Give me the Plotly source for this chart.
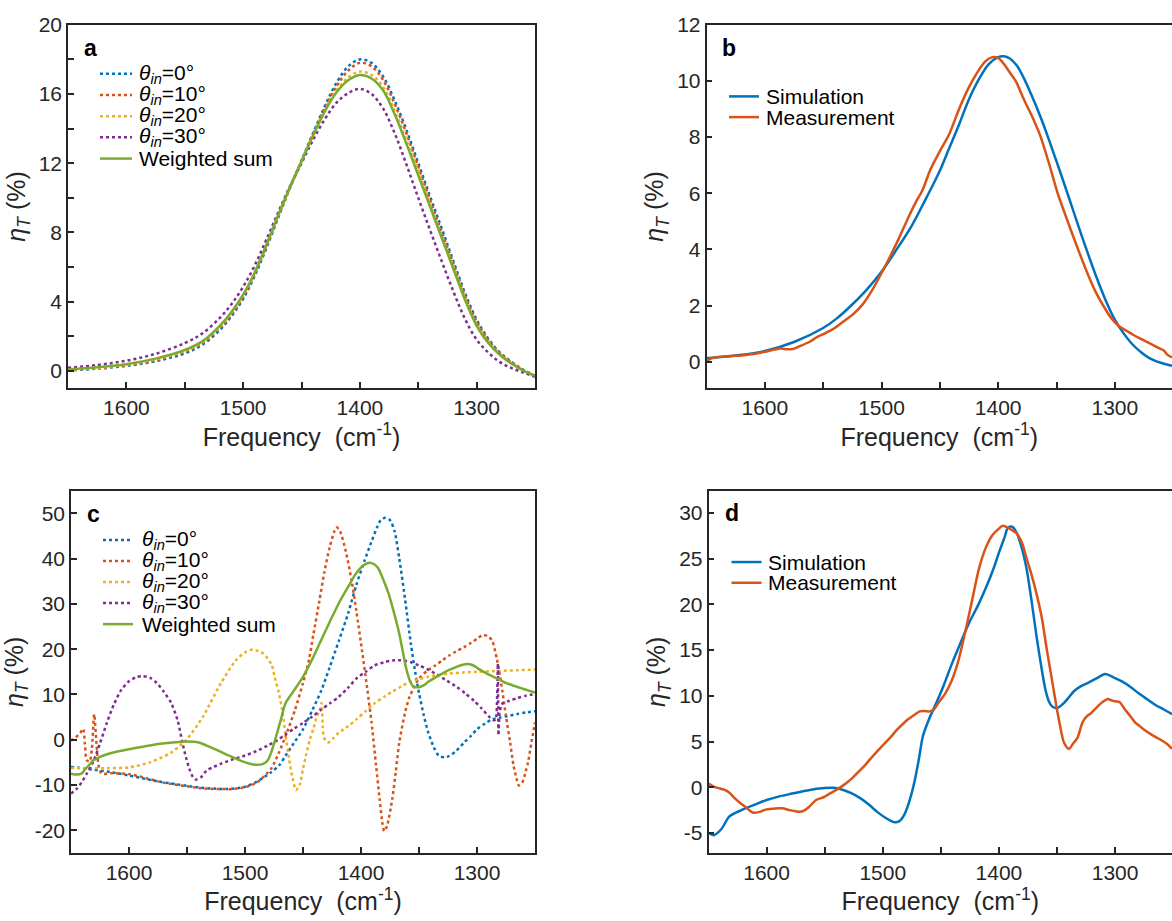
import plotly.graph_objects as go

W, H = 1172, 921

# ---------------- Panel a data ----------------
FA = [1650, 1625, 1600, 1575, 1550, 1535, 1520, 1510, 1500, 1490, 1480, 1470, 1460, 1450, 1440, 1430, 1420,
      1410, 1400, 1390, 1380, 1370, 1360, 1350, 1340, 1330, 1320, 1310, 1300, 1290, 1280, 1270, 1260, 1250]
A_T0 = [0.02, 0.12, 0.28, 0.55, 1.0, 1.5, 2.35, 3.15, 4.15, 5.5, 7.1, 8.85, 10.55, 12.15, 13.75, 15.3, 16.65,
        17.6, 18.0, 17.8, 17.0, 15.6, 13.9, 12.0, 10.1, 8.25, 6.35, 4.5, 2.95, 1.85, 1.05, 0.5, 0.05, -0.3]
A_T10 = [0.04, 0.15, 0.32, 0.6, 1.08, 1.58, 2.45, 3.25, 4.25, 5.6, 7.2, 8.9, 10.57, 12.13, 13.7, 15.2, 16.45,
         17.35, 17.8, 17.6, 16.8, 15.4, 13.7, 11.8, 9.9, 8.05, 6.2, 4.35, 2.85, 1.78, 1.0, 0.47, 0.04, -0.3]
A_T20 = [0.06, 0.17, 0.35, 0.66, 1.15, 1.65, 2.55, 3.35, 4.35, 5.65, 7.25, 8.95, 10.58, 12.1, 13.65, 15.05, 16.2,
         16.95, 17.3, 17.1, 16.4, 15.0, 13.3, 11.5, 9.65, 7.85, 6.05, 4.2, 2.7, 1.68, 0.95, 0.43, 0.02, -0.3]
A_T30 = [0.17, 0.33, 0.58, 0.98, 1.6, 2.15, 3.05, 3.85, 4.85, 6.1, 7.6, 9.15, 10.65, 12.0, 13.35, 14.55, 15.5,
         16.05, 16.3, 16.0, 15.15, 13.7, 11.9, 10.0, 8.15, 6.35, 4.6, 3.0, 1.8, 1.05, 0.5, 0.15, -0.1, -0.35]
A_SUM = [0.08, 0.2, 0.38, 0.7, 1.2, 1.7, 2.6, 3.4, 4.4, 5.7, 7.3, 9.0, 10.6, 12.1, 13.6, 15.0, 16.1,
         16.8, 17.1, 16.9, 16.2, 14.8, 13.1, 11.3, 9.5, 7.7, 5.9, 4.1, 2.6, 1.6, 0.9, 0.4, 0.0, -0.3]

# ---------------- Panel b data ----------------
B_SIM_F = [1650, 1625, 1600, 1575, 1550, 1538, 1526, 1513, 1500, 1487, 1474, 1462, 1450, 1442, 1433.5, 1425,
           1416, 1408, 1400, 1395, 1390, 1384, 1378, 1372, 1364, 1356, 1348, 1340, 1333, 1325, 1317, 1308,
           1300, 1292, 1285, 1277, 1270, 1260, 1251]
B_SIM = [0.12, 0.22, 0.38, 0.7, 1.2, 1.55, 2.0, 2.55, 3.2, 4.0, 4.85, 5.8, 6.8, 7.6, 8.45, 9.35,
         10.1, 10.6, 10.85, 10.88, 10.8, 10.55, 10.1, 9.55, 8.75, 7.85, 6.9, 5.92, 5.05, 4.08, 3.15, 2.2,
         1.5, 0.98, 0.62, 0.32, 0.12, -0.05, -0.15]
B_MEAS_F = [1650, 1646, 1640, 1630, 1620, 1610, 1600, 1592, 1586, 1581, 1576, 1570, 1562, 1555, 1548,
            1540, 1532, 1524, 1516, 1508, 1500, 1492, 1485, 1478, 1471, 1465, 1458, 1450, 1442, 1434,
            1426, 1418, 1411, 1405, 1400, 1395, 1390, 1385, 1378, 1370, 1363.5, 1356, 1349, 1340, 1331.5,
            1322, 1316, 1310, 1303, 1296, 1290, 1284, 1277, 1270, 1263, 1258, 1255, 1251]
B_MEAS = [0.0, 0.12, 0.17, 0.2, 0.22, 0.27, 0.35, 0.43, 0.47, 0.44, 0.45, 0.55, 0.7, 0.88, 1.02,
          1.2, 1.45, 1.7, 2.05, 2.55, 3.15, 3.8, 4.4, 5.05, 5.65, 6.1, 6.85, 7.5, 8.1, 8.95,
          9.7, 10.3, 10.7, 10.85, 10.82, 10.6, 10.3, 10.0, 9.35, 8.65, 8.0, 7.0, 6.0, 4.95, 4.0,
          3.0, 2.45, 2.0, 1.55, 1.25, 1.1, 0.95, 0.8, 0.65, 0.5, 0.4, 0.25, 0.15]

# ---------------- Panel c data ----------------
C_T0_F = [1650, 1631, 1615, 1600, 1585, 1573, 1560, 1550, 1538, 1527, 1515, 1500, 1490, 1478, 1470,
          1465, 1458, 1450, 1442, 1434, 1427, 1419, 1411, 1404, 1397, 1391, 1386, 1383, 1379, 1375,
          1371, 1367, 1362, 1357, 1353, 1350, 1346, 1342, 1337, 1333, 1328, 1324, 1318, 1311, 1305,
          1300, 1293, 1287, 1280, 1274, 1265, 1258, 1250]
C_T0 = [-6.0, -6.6, -7.2, -7.9, -8.7, -9.3, -9.8, -10.2, -10.6, -10.8, -10.9, -10.4, -9.3, -7.3, -5.5,
        -3.5, -0.8, 2.3, 6.5, 11.0, 16.0, 21.9, 28.0, 34.2, 39.5, 43.7, 47.0, 48.5, 49.0, 48.5,
        46.0, 40.0, 31.0, 21.2, 14.5, 10.3, 5.5, 1.6, -1.8, -3.5, -3.9, -3.6, -2.5, -0.6, 0.9,
        2.3, 3.6, 4.5, 4.9, 5.2, 5.7, 6.0, 6.3]
C_T10_F = [1650, 1646, 1642, 1639.5, 1638, 1636.5, 1634, 1632, 1630, 1628, 1626, 1623.5, 1615, 1600, 1585,
           1570, 1550, 1535, 1520, 1510, 1500, 1490, 1477.5, 1471, 1465, 1457, 1450, 1445, 1441, 1436,
           1431.5, 1427, 1423, 1421, 1418, 1413, 1408, 1404, 1399, 1394.5, 1391, 1387, 1384, 1381.5, 1380,
           1377.5, 1373, 1370, 1367, 1362, 1358, 1350, 1343, 1336, 1330, 1324, 1318, 1311.5, 1305, 1299,
           1295, 1291, 1287, 1283, 1281, 1278, 1275, 1271.5, 1268.5, 1266, 1264, 1261, 1258.5, 1256, 1253,
           1250]
C_T10 = [-0.2, 0.5, 1.5, 2.4, -1.0, -4.5, -4.8, -2.0, 5.6, -1.0, -6.0, -7.5, -7.4, -7.6, -8.5,
         -9.5, -10.3, -10.8, -10.9, -10.9, -10.5, -9.5, -6.4, -3.0, 0.8, 6.5, 12.5, 17.5, 23.3, 30.5,
         37.1, 42.5, 46.0, 46.9, 46.0, 41.5, 35.0, 28.4, 19.5, 11.0, 4.0, -5.7, -13.0, -18.5, -20.2,
         -19.0, -13.0, -7.0, -0.6, 6.0, 9.55, 13.5, 15.2, 16.4, 17.5, 18.6, 19.5, 20.4, 21.4, 22.5,
         23.1, 22.9, 21.9, 18.0, 15.4, 10.5, 5.2, -0.5, -5.7, -8.5, -10.1, -9.5, -7.5, -5.0, -0.5,
         3.8]
C_T20_F = [1650, 1635, 1619, 1600, 1582, 1564, 1550, 1536, 1521, 1508, 1500, 1493, 1484, 1477, 1474.5,
           1471, 1468, 1465, 1462, 1459, 1456, 1453, 1450, 1447, 1444, 1441, 1438, 1435.5, 1434, 1433,
           1432, 1430, 1428, 1424, 1419, 1411, 1404, 1396, 1388, 1380, 1373, 1365, 1358, 1350, 1342,
           1333, 1324, 1312, 1300, 1280, 1265, 1250]
C_T20 = [-6.25, -6.3, -6.3, -6.1, -5.0, -2.9, 0.15, 5.2, 12.4, 17.5, 19.3, 19.9, 19.0, 16.5, 13.9,
         10.5, 6.6, 1.0, -4.25, -8.5, -11.1, -10.0, -6.4, -3.0, 0.1, 2.5, 5.2, 6.5, 8.1, 3.0,
         0.5, -0.3, -0.6, 0.3, 1.6, 3.0, 4.5, 6.3, 8.1, 9.5, 10.6, 11.8, 12.8, 13.4, 13.9,
         14.3, 14.6, 14.85, 15.0, 15.2, 15.35, 15.5]
C_T30_F = [1650, 1645, 1640.5, 1636, 1631, 1625, 1619, 1613, 1606.7, 1600, 1594, 1588, 1582, 1576, 1570,
           1563.6, 1558, 1554, 1551, 1548, 1545, 1542.7, 1538, 1533, 1527, 1520.6, 1510, 1500, 1490, 1480.6,
           1472, 1465, 1458, 1450, 1442, 1434.5, 1427, 1419, 1411, 1404, 1396, 1388.4, 1380, 1373, 1368,
           1363.8, 1357, 1350, 1343, 1336, 1327, 1317.7, 1310, 1302.3, 1296, 1290, 1286, 1284, 1282.6, 1282,
           1281.5, 1280.5, 1279, 1277.6, 1272, 1265.4, 1258, 1250]
C_T30 = [-11.9, -10.8, -9.3, -7.3, -5.0, -0.8, 3.8, 7.8, 11.0, 12.9, 13.8, 14.05, 13.7, 12.5, 10.6,
         8.1, 4.2, -0.6, -3.8, -6.4, -8.2, -8.8, -8.3, -6.8, -6.0, -5.3, -4.3, -3.5, -2.5, -1.3,
         -0.1, 1.2, 2.4, 3.7, 5.1, 6.6, 8.0, 9.5, 11.5, 13.5, 15.0, 16.4, 17.1, 17.5, 17.55,
         17.5, 17.1, 16.4, 15.6, 14.6, 13.2, 11.7, 10.2, 8.5, 6.9, 5.2, 4.3, 4.4, 10.0, 16.8,
         1.0, 6.0, 7.6, 8.1, 8.6, 9.2, 9.7, 10.1]
C_SUM_F = [1650, 1645, 1641, 1637.4, 1634, 1631, 1625, 1619, 1610, 1600, 1587, 1573, 1560, 1550, 1540,
           1533, 1524, 1514, 1505, 1496, 1490, 1485, 1480.6, 1477, 1473, 1469, 1465, 1458, 1450, 1442,
           1434.5, 1427, 1419, 1411, 1404, 1398, 1393, 1389, 1385.3, 1381, 1376, 1371, 1367, 1364, 1360.7,
           1357.5, 1354.6, 1350, 1346, 1342, 1336, 1330, 1324, 1317.7, 1313, 1308.5, 1304, 1299, 1293, 1287,
           1281, 1274.6, 1268, 1262, 1256, 1250]
C_SUM = [-7.5, -7.7, -7.5, -6.4, -5.5, -4.6, -3.8, -3.2, -2.6, -2.1, -1.5, -0.9, -0.55, -0.4, -0.6,
         -1.3, -2.3, -3.5, -4.5, -5.3, -5.55, -5.4, -4.6, -2.5, 0.9, 4.5, 8.1, 10.8, 13.9, 17.8,
         21.9, 26.0, 30.2, 33.8, 36.8, 38.5, 39.1, 38.8, 37.9, 35.5, 32.1, 27.5, 23.4, 19.5, 15.4,
         12.8, 11.7, 11.6, 12.0, 12.8, 13.7, 14.6, 15.4, 16.1, 16.5, 16.7, 16.5, 15.7, 14.8, 14.05,
         13.3, 12.5, 11.9, 11.4, 10.9, 10.4]

# ---------------- Panel d data ----------------
D_SIM_F = [1650, 1645.6, 1639, 1632, 1621.7, 1610, 1600, 1589, 1578, 1565, 1550, 1542, 1534, 1527, 1519.4,
           1512, 1504.8, 1497, 1490.8, 1486, 1481.4, 1477, 1472.7, 1469, 1465.4, 1460, 1455, 1448, 1440.5, 1433,
           1426, 1418, 1411.3, 1405, 1399.6, 1395, 1392.3, 1388.5, 1385, 1381, 1376.3, 1372, 1367.5, 1363, 1360,
           1357, 1354.4, 1350, 1345, 1340, 1335.4, 1330, 1323.7, 1316, 1308.5, 1301, 1294.5, 1287, 1280, 1272,
           1265.2, 1258, 1251]
D_SIM = [-5.0, -5.25, -4.6, -3.2, -2.5, -1.9, -1.4, -1.0, -0.7, -0.35, -0.1, -0.07, -0.3, -0.65, -1.2,
         -1.9, -2.7, -3.4, -3.8, -3.75, -3.0, -1.5, 0.6, 3.0, 5.6, 7.5, 8.9, 11.0, 13.5, 15.8,
         17.9, 19.9, 21.8, 23.8, 25.8, 27.4, 28.4, 28.5, 27.9, 26.5, 24.0, 20.5, 16.4, 12.8, 10.7,
         9.4, 8.85, 8.65, 9.1, 9.8, 10.5, 11.0, 11.4, 11.9, 12.4, 12.0, 11.6, 11.0, 10.3, 9.6,
         9.0, 8.5, 8.0]
D_MEAS_F = [1650, 1645, 1640, 1636, 1632, 1627.5, 1623, 1618.7, 1615, 1611.4, 1606, 1601, 1594, 1586.6, 1580.8,
            1576, 1572, 1567, 1563, 1557.4, 1551, 1545.7, 1540, 1534, 1528, 1522.3, 1516, 1510.6, 1505, 1499,
            1493, 1487.3, 1482, 1478.5, 1473, 1468.3, 1464, 1459.5, 1456, 1452.2, 1446, 1440.5, 1435, 1428.8, 1423,
            1417, 1411, 1405.5, 1400, 1396.7, 1391, 1385, 1380, 1376.3, 1372, 1367.5, 1363, 1358.7, 1354, 1350,
            1347, 1344, 1339.7, 1336, 1332.4, 1328, 1324, 1320.7, 1316, 1312, 1306, 1303, 1300, 1296, 1291.5,
            1287, 1282.8, 1278, 1274, 1268, 1262.3, 1256, 1251]
D_MEAS = [0.4, 0.04, -0.15, -0.3, -0.6, -1.2, -1.7, -2.1, -2.5, -2.8, -2.7, -2.45, -2.35, -2.3, -2.5,
          -2.6, -2.7, -2.5, -2.1, -1.4, -1.1, -0.7, -0.3, 0.2, 0.8, 1.5, 2.3, 3.1, 3.9, 4.7,
          5.5, 6.35, 7.0, 7.4, 7.9, 8.3, 8.35, 8.3, 8.5, 9.2, 10.3, 11.7, 13.8, 17.1, 20.5,
          24.0, 26.3, 27.6, 28.3, 28.6, 28.3, 27.8, 26.7, 25.1, 23.3, 21.1, 18.5, 15.0, 11.5, 8.5,
          6.5, 4.9, 4.2, 4.8, 5.4, 7.1, 7.8, 8.1, 8.7, 9.2, 9.65, 9.5, 9.4, 9.3, 8.5,
          7.8, 7.1, 6.6, 6.2, 5.7, 5.3, 4.8, 4.2]

# ---------------- labels / ticks ----------------
ANGLES = [0, 10, 20, 30]
SIM_LABELS = ["Simulation", "Measurement"]
PANEL_LABELS = ["a", "b", "c", "d"]
X_TICKS = [1600, 1500, 1400, 1300]
X_MINOR = [1550, 1450, 1350]
YA_TICKS = [0, 4, 8, 12, 16, 20]
YA_MINOR = [2, 6, 10, 14, 18]
YB_TICKS = [0, 2, 4, 6, 8, 10, 12]
YC_TICKS = [-20, -10, 0, 10, 20, 30, 40, 50]
YD_TICKS = [-5, 0, 5, 10, 15, 20, 25, 30]

for fx, fy in [(FA, A_T0), (FA, A_T10), (FA, A_T20), (FA, A_T30), (FA, A_SUM), (B_SIM_F, B_SIM),
               (B_MEAS_F, B_MEAS), (C_T0_F, C_T0), (C_T10_F, C_T10), (C_T20_F, C_T20), (C_T30_F, C_T30),
               (C_SUM_F, C_SUM), (D_SIM_F, D_SIM), (D_MEAS_F, D_MEAS)]:
    assert len(fx) == len(fy), (len(fx), len(fy))

BLUE, ORANGE, YELLOW, PURPLE, GREEN = "#0072BD", "#D95319", "#EDB120", "#7E2F8E", "#77AC30"
ANG_COLORS = [BLUE, ORANGE, YELLOW, PURPLE]
INK = "#262626"
FONT = "Liberation Sans, Arial, Helvetica, sans-serif"


def px(x):
    return x / W


def py(y):
    return 1 - y / H


def ang_label(a):
    return f"<i>θ</i><sub><i>in</i></sub>={a}°"


fig = go.Figure()

LW = 2.5


def add(xs, ys, color, dash, ax, name, smooth=1.0):
    fig.add_trace(go.Scatter(x=xs, y=ys, mode="lines", name=name, showlegend=False,
                             line=dict(color=color, width=LW, dash=dash, shape="spline", smoothing=smooth),
                             xaxis=ax[0], yaxis=ax[1], hoverinfo="skip"))


for a, ys, c in zip(ANGLES, [A_T0, A_T10, A_T20, A_T30], ANG_COLORS):
    add(FA, ys, c, "dot", ("x", "y"), ang_label(a))
add(FA, A_SUM, GREEN, "solid", ("x", "y"), "Weighted sum")

add(B_SIM_F, B_SIM, BLUE, "solid", ("x2", "y2"), SIM_LABELS[0])
add(B_MEAS_F, B_MEAS, ORANGE, "solid", ("x2", "y2"), SIM_LABELS[1], 0.8)

for a, fx, ys, c in zip(ANGLES, [C_T0_F, C_T10_F, C_T20_F, C_T30_F], [C_T0, C_T10, C_T20, C_T30], ANG_COLORS):
    add(fx, ys, c, "dot", ("x3", "y3"), ang_label(a), 0.7)
add(C_SUM_F, C_SUM, GREEN, "solid", ("x3", "y3"), "Weighted sum", 0.8)

add(D_SIM_F, D_SIM, BLUE, "solid", ("x4", "y4"), SIM_LABELS[0], 0.8)
add(D_MEAS_F, D_MEAS, ORANGE, "solid", ("x4", "y4"), SIM_LABELS[1], 0.8)

XTITLE = "Frequency  (cm<sup>-1</sup>)"
YTITLE = "<i>η</i><sub><i>T</i></sub> (%)"
TICK_SIZE = 21


def xaxis(dom, rng, anchor):
    return dict(domain=[px(dom[0]), px(dom[1])], range=rng, anchor=anchor,
                tickmode="array", tickvals=X_TICKS, ticktext=[str(t) for t in X_TICKS],
                minor=dict(tickmode="array", tickvals=X_MINOR, ticks="inside", ticklen=6,
                           tickwidth=1.5, tickcolor=INK),
                ticks="inside", ticklen=6, tickwidth=1.5, tickcolor=INK,
                showline=True, linecolor=INK, linewidth=1.6, mirror=True,
                showgrid=False, zeroline=False,
                tickfont=dict(size=TICK_SIZE, color=INK, family=FONT),
                title=dict(text=XTITLE, font=dict(size=25, color=INK, family=FONT), standoff=4))


def yaxis(dom, rng, anchor, ticks, minor=None, mirror=True):
    d = dict(domain=[py(dom[1]), py(dom[0])], range=rng, anchor=anchor,
             tickmode="array", tickvals=ticks, ticktext=[str(t) for t in ticks],
             ticks="inside", ticklen=6, tickwidth=1.5, tickcolor=INK,
             showline=True, linecolor=INK, linewidth=1.6, mirror=mirror,
             showgrid=False, zeroline=False,
             tickfont=dict(size=TICK_SIZE, color=INK, family=FONT),
             title=dict(text=YTITLE, font=dict(size=25, color=INK, family=FONT), standoff=6))
    if minor:
        d["minor"] = dict(tickmode="array", tickvals=minor, ticks="inside", ticklen=6,
                          tickwidth=1.5, tickcolor=INK)
    return d


fig.update_layout(
    width=W, height=H, margin=dict(l=0, r=0, t=0, b=0),
    paper_bgcolor="white", plot_bgcolor="white",
    font=dict(family=FONT, color=INK),
    showlegend=False,
    xaxis=xaxis((68, 535), [1650, 1250], "y"),
    yaxis=yaxis((13, 381), [-1, 20], "x", YA_TICKS, YA_MINOR),
    xaxis2=xaxis((706.5, 1172), [1650, 1251], "y2"),
    yaxis2=yaxis((13, 381), [-0.94, 12], "x2", YB_TICKS, mirror=False),
    xaxis3=xaxis((71, 535), [1650, 1250], "y3"),
    yaxis3=yaxis((485, 852), [-25, 55], "x3", YC_TICKS),
    xaxis4=xaxis((708.5, 1172), [1650, 1251], "y4"),
    yaxis4=yaxis((485, 852), [-7.19, 32.45], "x4", YD_TICKS, mirror=False),
)

annotations = []
shapes = []

# panel letters
for lab, (x, y) in zip(PANEL_LABELS, [(90, 36), (729, 36), (93, 509), (732, 508)]):
    annotations.append(dict(text=f"<b>{lab}</b>", x=px(x), y=py(y), xref="paper", yref="paper",
                            showarrow=False, xanchor="center", yanchor="middle",
                            font=dict(size=23, color="black", family=FONT)))


def legend_block(labels, colors, dashes, x0, x1, xt, y0, dy):
    for i, (lab, col, ds) in enumerate(zip(labels, colors, dashes)):
        yy = y0 + i * dy
        shapes.append(dict(type="line", xref="paper", yref="paper", x0=px(x0), x1=px(x1),
                           y0=py(yy), y1=py(yy), line=dict(color=col, width=LW, dash=ds)))
        annotations.append(dict(text=lab, x=px(xt), y=py(yy), xref="paper", yref="paper",
                                showarrow=False, xanchor="left", yanchor="middle",
                                font=dict(size=21, color="black", family=FONT)))


ang_labels = [ang_label(a) for a in ANGLES] + ["Weighted sum"]
ang_cols = ANG_COLORS + [GREEN]
ang_dash = ["dot"] * 4 + ["solid"]
legend_block(ang_labels, ang_cols, ang_dash, 100, 132, 137, 62.5, 21.5)
legend_block(ang_labels, ang_cols, ang_dash, 103, 133, 140, 535, 21.3)
legend_block(SIM_LABELS, [BLUE, ORANGE], ["solid", "solid"], 729, 759, 764, 85.5, 21)
legend_block(SIM_LABELS, [BLUE, ORANGE], ["solid", "solid"], 731.5, 761.5, 766, 557.3, 21)

fig.update_layout(annotations=annotations, shapes=shapes)

fig.write_html("out.html")
